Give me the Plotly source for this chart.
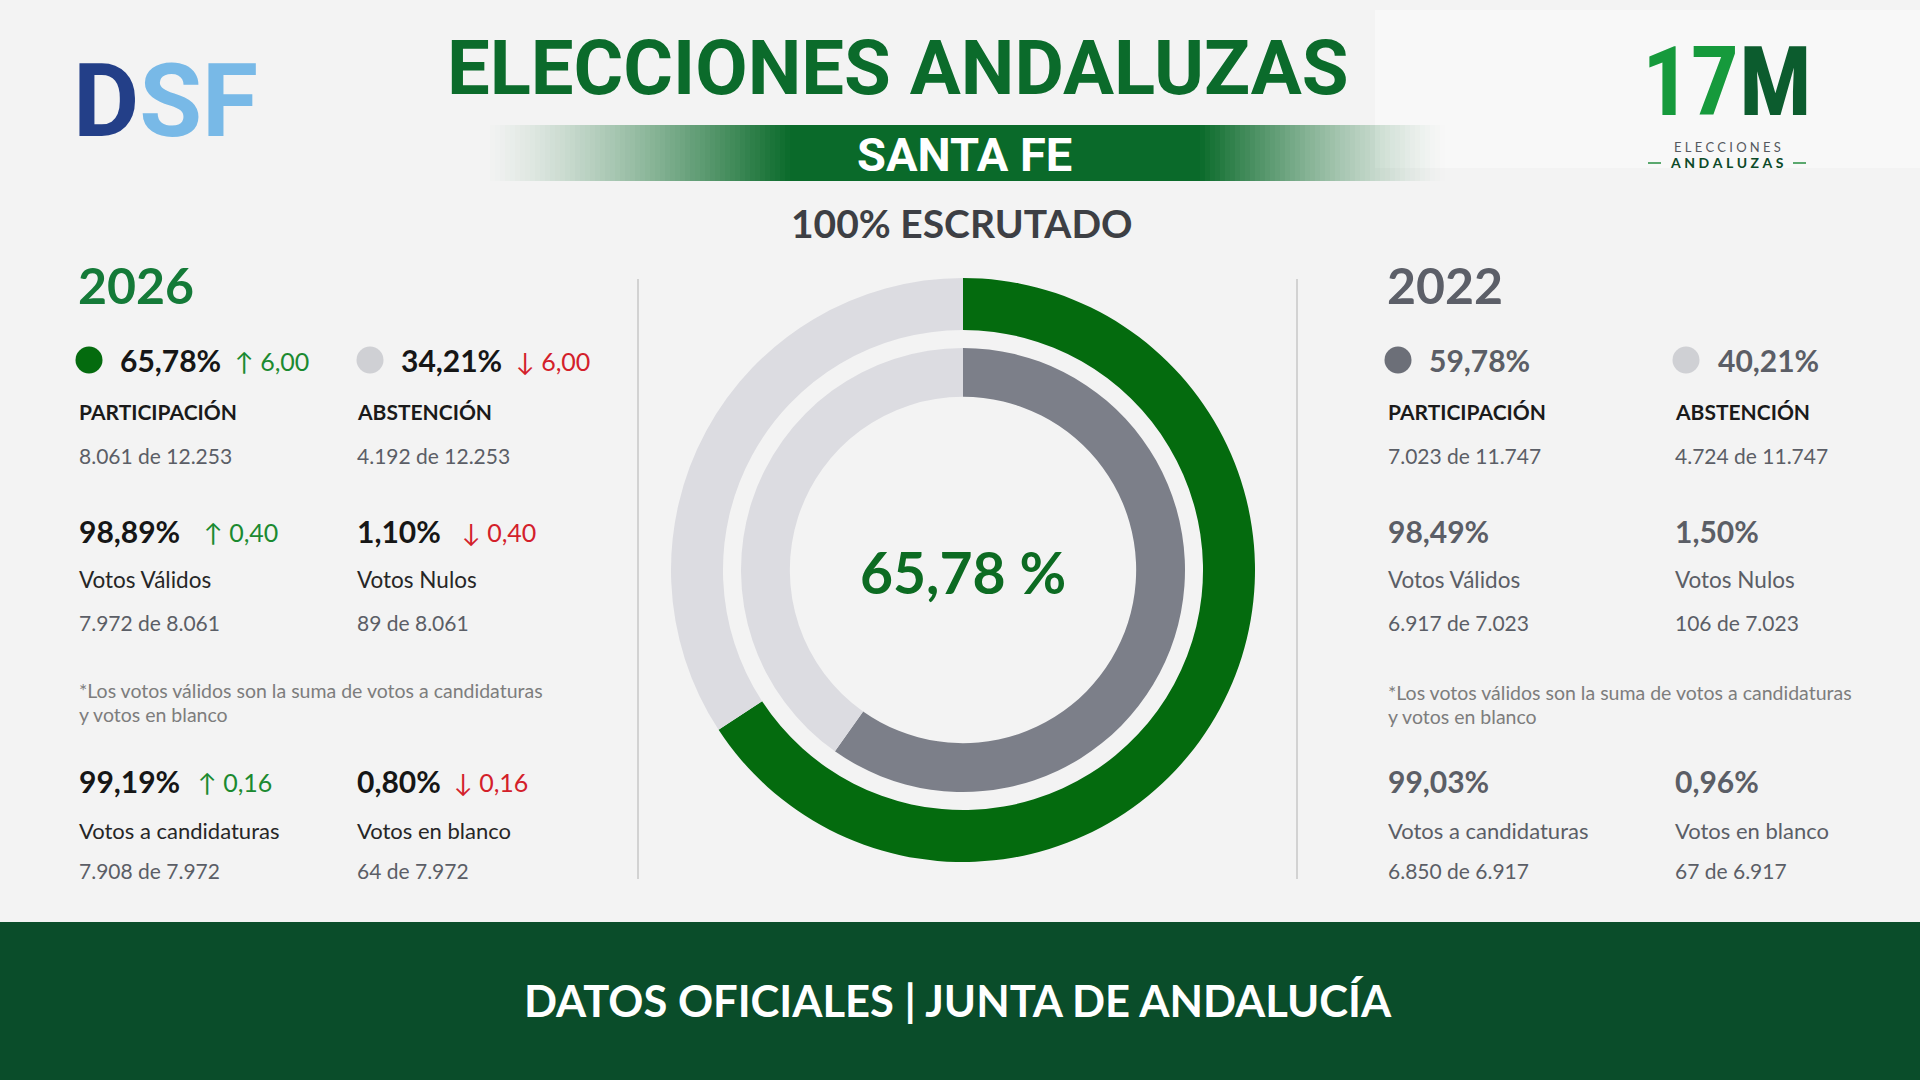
import plotly.graph_objects as go

W, H = 1920, 1080

# datos
years = ["2026", "2022"]
participacion = [65.78, 59.78]
abstencion = [34.21, 40.21]
votantes = [8061, 7023]
censo = [12253, 11747]
abstenidos = [4192, 4724]
validos_pct = [98.89, 98.49]
nulos_pct = [1.10, 1.50]
validos = [7972, 6917]
nulos = [89, 106]
candidaturas_pct = [99.19, 99.03]
blanco_pct = [0.80, 0.96]
candidaturas = [7908, 6850]
blanco = [64, 67]

GREEN = "#046b0e"
DARKGRAY = "#7c7f89"
LIGHTGRAY = "#dcdce1"
UP = "#1b8a30"
DOWN = "#d3202a"
BODY = "Lato, 'Open Sans', sans-serif"
HEAD = "Roboto, 'Liberation Sans', sans-serif"
NARROW = "'Liberation Sans Narrow', 'Roboto Condensed', Roboto"


def px(x):
    return x / W


def py(y):
    return 1 - y / H


def pct(v):
    return f"{v:.2f}".replace(".", ",")


def miles(n):
    return f"{n:,}".replace(",", ".")


ann = []
shapes = []


def txt(x, y, s, size, color, bold=False, font=BODY, anchor="left"):
    ann.append(dict(x=px(x), y=py(y), xref="paper", yref="paper",
                    text=f"<b>{s}</b>" if bold else s, showarrow=False,
                    xanchor=anchor, yanchor="middle",
                    font=dict(size=size, color=color, family=font)))


def rect(x0, y0, x1, y1, color, opacity=1.0):
    shapes.append(dict(type="rect", xref="paper", yref="paper",
                       x0=px(x0), x1=px(x1), y0=py(y1), y1=py(y0),
                       fillcolor=color, opacity=opacity, line=dict(width=0),
                       layer="below"))


def dot(cx, cy, r, color):
    shapes.append(dict(type="circle", xref="paper", yref="paper",
                       x0=px(cx - r), x1=px(cx + r), y0=py(cy + r), y1=py(cy - r),
                       fillcolor=color, line=dict(width=0)))


fig = go.Figure()

# anillo exterior 2026, interior 2022
fig.add_trace(go.Pie(values=[participacion[0], abstencion[0]],
                     labels=["Participación", "Abstención"],
                     marker=dict(colors=[GREEN, LIGHTGRAY], line=dict(width=0)),
                     hole=0.822, sort=False, direction="clockwise", rotation=0,
                     textinfo="none", showlegend=False,
                     domain=dict(x=[px(671), px(1255)], y=[py(862), py(278)])))
fig.add_trace(go.Pie(values=[participacion[1], abstencion[1]],
                     labels=["Participación", "Abstención"],
                     marker=dict(colors=[DARKGRAY, LIGHTGRAY], line=dict(width=0)),
                     hole=0.78, sort=False, direction="clockwise", rotation=0,
                     textinfo="none", showlegend=False,
                     domain=dict(x=[px(741), px(1185)], y=[py(792), py(348)])))

txt(963, 572, f"<b>{pct(participacion[0])} %</b>", 57, "#0c6b22", anchor="center")

# cabecera
rect(1375, 10, 1920, 168, "#f8f8f8")
rect(790, 125, 1200, 181, "#0a6a2a")
step = 5
for x0 in range(485, 790, step):
    a = (x0 - 485 + step / 2) / (790 - 485)
    rect(x0, 125, x0 + step, 181, "#0a6a2a", a ** 1.3)
for x0 in range(1200, 1445, step):
    a = (x0 - 1200 + step / 2) / (1445 - 1200)
    rect(x0, 125, x0 + step, 181, "#0a6a2a", (1 - a) ** 1.3)

txt(898, 68, "ELECCIONES ANDALUZAS", 76, "#0b6b2b", bold=True, font=HEAD, anchor="center")
txt(964, 154, "SANTA FE", 47, "white", bold=True, font=HEAD, anchor="center")
txt(962, 223, "100% ESCRUTADO", 39, "#3d3f44", bold=True, anchor="center")

# logos
txt(71, 101, "<span style='color:#233f88'>D</span><span style='color:#78b9e7'>SF</span>",
    102, "#233f88", bold=True, font=HEAD)
txt(1727, 82, "<span style='color:#169a3c'>17</span><span style='color:#0c5c2e'>M</span>",
    96, "#169a3c", bold=True, font=NARROW, anchor="center")
txt(1727, 146.5, "\u2009\u2009".join("ELECCIONES"), 13, "#55585e", anchor="center")
txt(1727, 163, "\u2009\u2009".join("ANDALUZAS"), 14, "#0c4a28", bold=True, anchor="center")
for xa, xb in [(1648, 1661), (1793, 1806)]:
    shapes.append(dict(type="line", xref="paper", yref="paper", x0=px(xa), x1=px(xb),
                       y0=py(163), y1=py(163), line=dict(color="#5aa86e", width=2)))

# separadores
for xs in [638, 1297]:
    shapes.append(dict(type="line", xref="paper", yref="paper", x0=px(xs), x1=px(xs),
                       y0=py(279), y1=py(879), line=dict(color="#d2d2d2", width=2)))

# paneles
panels = [
    dict(i=0, c1=77, c2=355, d1=89, d2=370, p1=118, p2=399,
         ycol="#147a38", pcol="#161616", lcol="#262626", dcol1=GREEN, dcol2="#cfd0d4",
         deltas=[(233, 514), (202, 460), (196, 452)]),
    dict(i=1, c1=1386, c2=1673, d1=1398, d2=1686, p1=1427, p2=1716,
         ycol="#5c5f68", pcol="#5b5e66", lcol="#5b5e66", dcol1="#6c6f78", dcol2="#cfd0d4",
         deltas=None),
]
for p in panels:
    i = p["i"]
    txt(p["c1"] - 1, 285, years[i], 50, p["ycol"], bold=True)
    dot(p["d1"], 360, 13.5, p["dcol1"])
    dot(p["d2"], 360, 13.5, p["dcol2"])
    txt(p["p1"], 360, pct(participacion[i]) + "%", 30, p["pcol"], bold=True)
    txt(p["p2"], 360, pct(abstencion[i]) + "%", 30, p["pcol"], bold=True)
    txt(p["c1"], 411, "PARTICIPACIÓN", 21, "#1a1a1a", bold=True)
    txt(p["c2"], 411, "ABSTENCIÓN", 21, "#1a1a1a", bold=True)
    txt(p["c1"], 455, f"{miles(votantes[i])} de {miles(censo[i])}", 21, "#5b5e66")
    txt(p["c2"], 455, f"{miles(abstenidos[i])} de {miles(censo[i])}", 21, "#5b5e66")

    txt(p["c1"], 531, pct(validos_pct[i]) + "%", 30, p["pcol"], bold=True)
    txt(p["c2"], 531, pct(nulos_pct[i]) + "%", 30, p["pcol"], bold=True)
    txt(p["c1"], 579, "Votos Válidos", 22.5, p["lcol"])
    txt(p["c2"], 579, "Votos Nulos", 22.5, p["lcol"])
    txt(p["c1"], 622, f"{miles(validos[i])} de {miles(votantes[i])}", 21, "#5b5e66")
    txt(p["c2"], 622, f"{miles(nulos[i])} de {miles(votantes[i])}", 21, "#5b5e66")

    txt(p["c1"], 690 + 2 * i, "*Los votos válidos son la suma de votos a candidaturas", 19.5, "#7d7d7d")
    txt(p["c1"], 714 + 2 * i, "y votos en blanco", 19.5, "#7d7d7d")

    txt(p["c1"], 781, pct(candidaturas_pct[i]) + "%", 30, p["pcol"], bold=True)
    txt(p["c2"], 781, pct(blanco_pct[i]) + "%", 30, p["pcol"], bold=True)
    txt(p["c1"], 830, "Votos a candidaturas", 22, p["lcol"])
    txt(p["c2"], 830, "Votos en blanco", 22, p["lcol"])
    txt(p["c1"], 870, f"{miles(candidaturas[i])} de {miles(validos[i])}", 21, "#5b5e66")
    txt(p["c2"], 870, f"{miles(blanco[i])} de {miles(validos[i])}", 21, "#5b5e66")

    if p["deltas"]:
        pairs = [(participacion, abstencion), (validos_pct, nulos_pct),
                 (candidaturas_pct, blanco_pct)]
        for (a, b), (xa, xb), yy in zip(pairs, p["deltas"], [360, 531, 781]):
            da = a[0] - a[1]
            db = b[0] - b[1]
            txt(xa, yy + 1, ("↑ " if da >= 0 else "↓ ") + pct(abs(da)), 25, UP if da >= 0 else DOWN)
            txt(xb, yy + 1, ("↑ " if db >= 0 else "↓ ") + pct(abs(db)), 25, UP if db >= 0 else DOWN)

# pie
rect(0, 922, 1920, 1080, "#0a4d2a")
txt(958, 1000, "DATOS OFICIALES | JUNTA DE ANDALUCÍA", 43.5, "white", bold=True, anchor="center")

fig.update_layout(width=W, height=H, margin=dict(l=0, r=0, t=0, b=0),
                  paper_bgcolor="#f3f3f3", plot_bgcolor="#f3f3f3",
                  annotations=ann, shapes=shapes, showlegend=False)
fig.write_html("out.html", config={"displayModeBar": False},
               post_script="document.body.style.margin='0';document.body.style.overflow='hidden';")
